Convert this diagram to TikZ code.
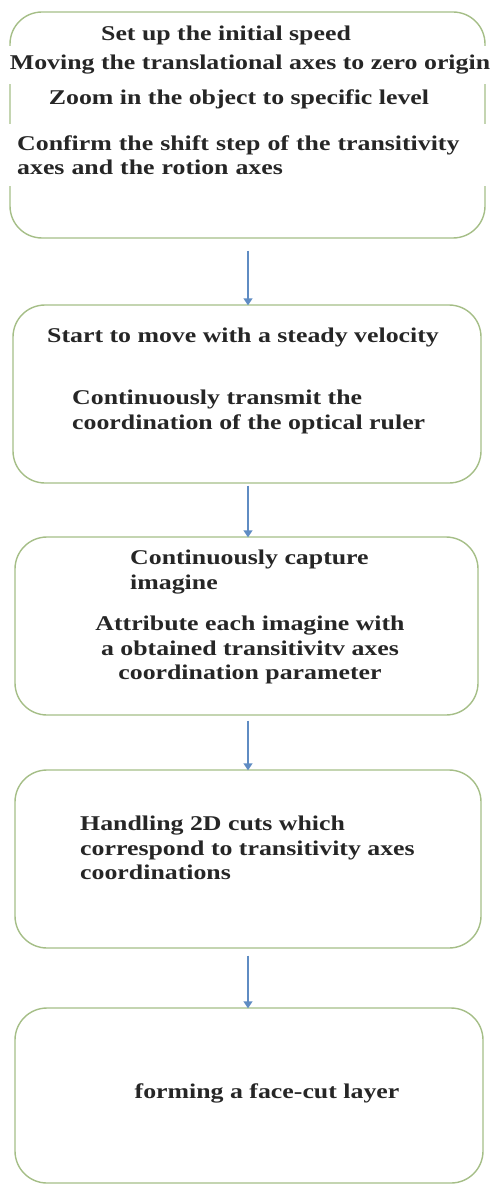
\documentclass[tikz,border=0pt]{standalone}
\usepackage{fontspec}
\setmainfont[FakeStretch=1.23]{Liberation Serif}
\usetikzlibrary{arrows.meta}
\definecolor{boxgreen}{RGB}{165,190,135}
\definecolor{arrowblue}{RGB}{95,140,195}
\begin{document}
\begin{tikzpicture}[x=1pt,y=1pt,
  stepbox/.style={draw=boxgreen, line width=1.4pt, rounded corners=32pt, fill=none},
  txt/.style={font=\fontsize{21}{24.5}\selectfont\bfseries, inner sep=0pt, text=black!85},
  conn/.style={draw=arrowblue, line width=1.5pt, -{Triangle[length=7pt,width=9pt]}}]
\useasboundingbox (0,0) rectangle (497,-1185);
% boxes
\node[stepbox, minimum width=475pt, minimum height=226pt] (b1) at (247.5,-125) {};
\node[stepbox, minimum width=468pt, minimum height=178pt] (b2) at (247,-394) {};
\node[stepbox, minimum width=463pt, minimum height=178pt] (b3) at (246.5,-626) {};
\node[stepbox, minimum width=466pt, minimum height=178pt] (b4) at (248,-859) {};
\node[stepbox, minimum width=468pt, minimum height=175pt] (b5) at (249,-1095.5) {};
% box 1 text
\node[txt] (t11) at (226,-35) {Set up the initial speed};
\node[txt, fill=white, minimum width=497pt, minimum height=38pt] (t12) at (250,-65) {Moving the translational axes to zero origin};
\node[txt] (t13) at (239,-99) {Zoom in the object to specific level};
\node[txt, fill=white, anchor=west, inner xsep=8pt, text width=470pt, align=left, minimum height=62pt] (t14) at (9,-155) {Confirm the shift step of the transitivity\\axes and the rotion axes};
% box 2 text
\node[txt] (t21) at (243,-337) {Start to move with a steady velocity};
\node[txt, anchor=west, align=left] (t22) at (72,-412) {Continuously transmit the\\coordination of the optical ruler};
% box 3 text
\node[txt, anchor=west, align=left] (t31) at (130,-572) {Continuously capture\\imagine};
\node[txt, align=center] (t32) at (250,-650) {Attribute each imagine with\\a obtained transitivitv axes\\coordination parameter};
% box 4 text
\node[txt, anchor=west, align=left] (t41) at (80,-848) {Handling 2D cuts which\\correspond to transitivity axes\\coordinations};
% box 5 text
\node[txt] (t51) at (267,-1093) {forming a face-cut layer};
% arrows
\draw[conn] ([yshift=-12pt]b1.south -| 248,0) -- ([yshift=-1pt]b2.north -| 248,0);
\draw[conn] ([yshift=-2pt]b2.south -| 248,0) -- ([yshift=-1pt]b3.north -| 248,0);
\draw[conn] ([yshift=-5pt]b3.south -| 248,0) -- ([yshift=-1pt]b4.north -| 248,0);
\draw[conn] ([yshift=-7pt]b4.south -| 248,0) -- ([yshift=-1pt]b5.north -| 248,0);
\end{tikzpicture}
\end{document}
